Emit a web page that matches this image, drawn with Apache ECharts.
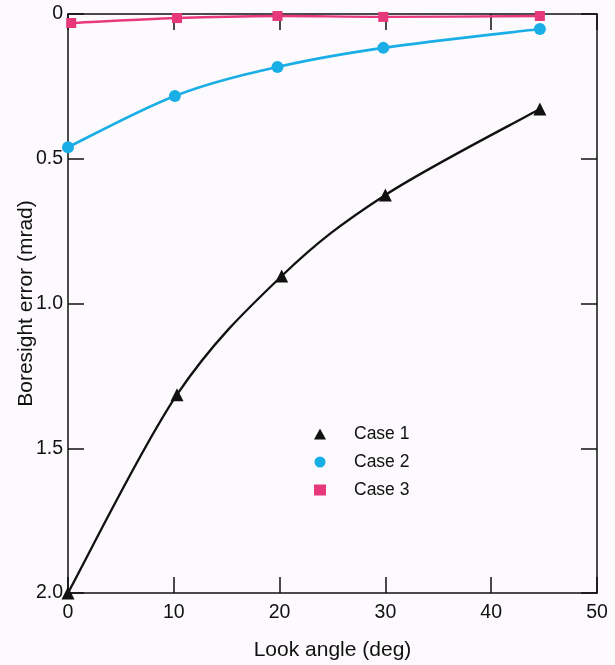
<!DOCTYPE html>
<html><head><meta charset="utf-8">
<script src="https://cdn.jsdelivr.net/npm/echarts@6/dist/echarts.min.js"></script>
<style>html,body{margin:0;padding:0;background:#fcfafd}#c{width:615px;height:665px}</style>
</head><body><div id="c"></div>
<script>
const case1X = [0, 10.3, 20.2, 30, 44.6];
const case1Y = [2.0, 1.315, 0.905, 0.625, 0.328];
const case2X = [0, 10.1, 19.8, 29.8, 44.6];
const case2Y = [0.46, 0.283, 0.183, 0.117, 0.052];
const case3X = [0.3, 10.3, 19.8, 29.8, 44.6];
const case3Y = [0.031, 0.014, 0.007, 0.01, 0.007];
const seriesNames = ['Case 1', 'Case 2', 'Case 3'];
const xTicks = [0, 10, 20, 30, 40, 50];
const yTicks = [0, 0.5, 1.0, 1.5, 2.0];

const colors = ['#111111', '#1aaee6', '#e8387c'];
const pairs = (xs, ys) => xs.map((x, i) => [x, ys[i]]);
const font = 'Liberation Sans, Arial, sans-serif';
const axisLine = {show: true, onZero: false, lineStyle: {color: '#111', width: 1.5}};
const tick = {show: true, inside: true, length: 16, lineStyle: {color: '#111', width: 1.5}};

// smooth curve through the data points (Catmull-Rom -> cubic Bezier), positioned via api.coord
function curveSeries(xs, ys, color, width) {
  return {
    type: 'custom', z: 1, silent: true,
    data: [[xs[0], ys[0]]],
    renderItem: function (params, api) {
      const p = xs.map((x, i) => api.coord([x, ys[i]]));
      const n = p.length;
      const children = [];
      for (let i = 0; i < n - 1; i++) {
        const p0 = p[Math.max(i - 1, 0)], p1 = p[i], p2 = p[i + 1], p3 = p[Math.min(i + 2, n - 1)];
        children.push({
          type: 'bezierCurve',
          shape: {
            x1: p1[0], y1: p1[1], x2: p2[0], y2: p2[1],
            cpx1: p1[0] + (p2[0] - p0[0]) / 6, cpy1: p1[1] + (p2[1] - p0[1]) / 6,
            cpx2: p2[0] - (p3[0] - p1[0]) / 6, cpy2: p2[1] - (p3[1] - p1[1]) / 6
          },
          style: {stroke: color, lineWidth: width, fill: null}
        });
      }
      return {type: 'group', children};
    }
  };
}

const chart = echarts.init(document.getElementById('c'));
chart.setOption({
  backgroundColor: '#fcfafd',
  animation: false,
  grid: {left: 68, right: 18, top: 14, bottom: 72, containLabel: false, outerBoundsMode: 'none'},
  xAxis: [{
    type: 'value', min: xTicks[0], max: xTicks[xTicks.length - 1], interval: 10,
    position: 'bottom',
    name: 'Look angle (deg)', nameLocation: 'middle', nameGap: 47, nameMoveOverlap: false,
    nameTextStyle: {fontFamily: font, fontSize: 21, color: '#111'},
    axisLine, axisTick: tick, splitLine: {show: false},
    axisLabel: {fontFamily: font, fontSize: 19.5, color: '#111', margin: 10}
  }, {
    type: 'value', min: xTicks[0], max: xTicks[xTicks.length - 1], interval: 10,
    position: 'top', axisLine, axisTick: tick, splitLine: {show: false},
    axisLabel: {show: false}
  }],
  yAxis: [{
    type: 'value', inverse: true, min: yTicks[0], max: yTicks[yTicks.length - 1], interval: 0.5,
    position: 'left',
    name: 'Boresight error (mrad)', nameLocation: 'middle', nameGap: 31, nameRotate: 90,
    nameMoveOverlap: false,
    nameTextStyle: {fontFamily: font, fontSize: 21, color: '#111'},
    axisLine, axisTick: tick, splitLine: {show: false},
    axisLabel: {fontFamily: font, fontSize: 19.5, color: '#111', margin: 5,
      formatter: v => v === 0 ? '0' : v.toFixed(1)}
  }, {
    type: 'value', inverse: true, min: yTicks[0], max: yTicks[yTicks.length - 1], interval: 0.5,
    position: 'right', axisLine, axisTick: tick, splitLine: {show: false},
    axisLabel: {show: false}
  }],
  legend: {
    orient: 'vertical', left: 309, top: 420, itemGap: 10,
    itemWidth: 12, itemHeight: 11,
    textStyle: {fontFamily: font, fontSize: 17.5, color: '#111', padding: [0, 0, 0, 23]},
    data: [
      {name: seriesNames[0], icon: 'triangle'},
      {name: seriesNames[1], icon: 'circle'},
      {name: seriesNames[2], icon: 'rect'}
    ]
  },
  series: [
    curveSeries(case1X, case1Y, colors[0], 2.3),
    curveSeries(case2X, case2Y, colors[1], 2.6),
    curveSeries(case3X, case3Y, colors[2], 2.4),
    {name: seriesNames[0], type: 'scatter', z: 3, data: pairs(case1X, case1Y),
     symbol: 'triangle', symbolSize: 13, itemStyle: {color: colors[0], opacity: 1}},
    {name: seriesNames[1], type: 'scatter', z: 3, data: pairs(case2X, case2Y),
     symbol: 'circle', symbolSize: 12, itemStyle: {color: colors[1], opacity: 1}},
    {name: seriesNames[2], type: 'scatter', z: 3, data: pairs(case3X, case3Y),
     symbol: 'rect', symbolSize: 10, itemStyle: {color: colors[2], opacity: 1}}
  ]
});
</script></body></html>
